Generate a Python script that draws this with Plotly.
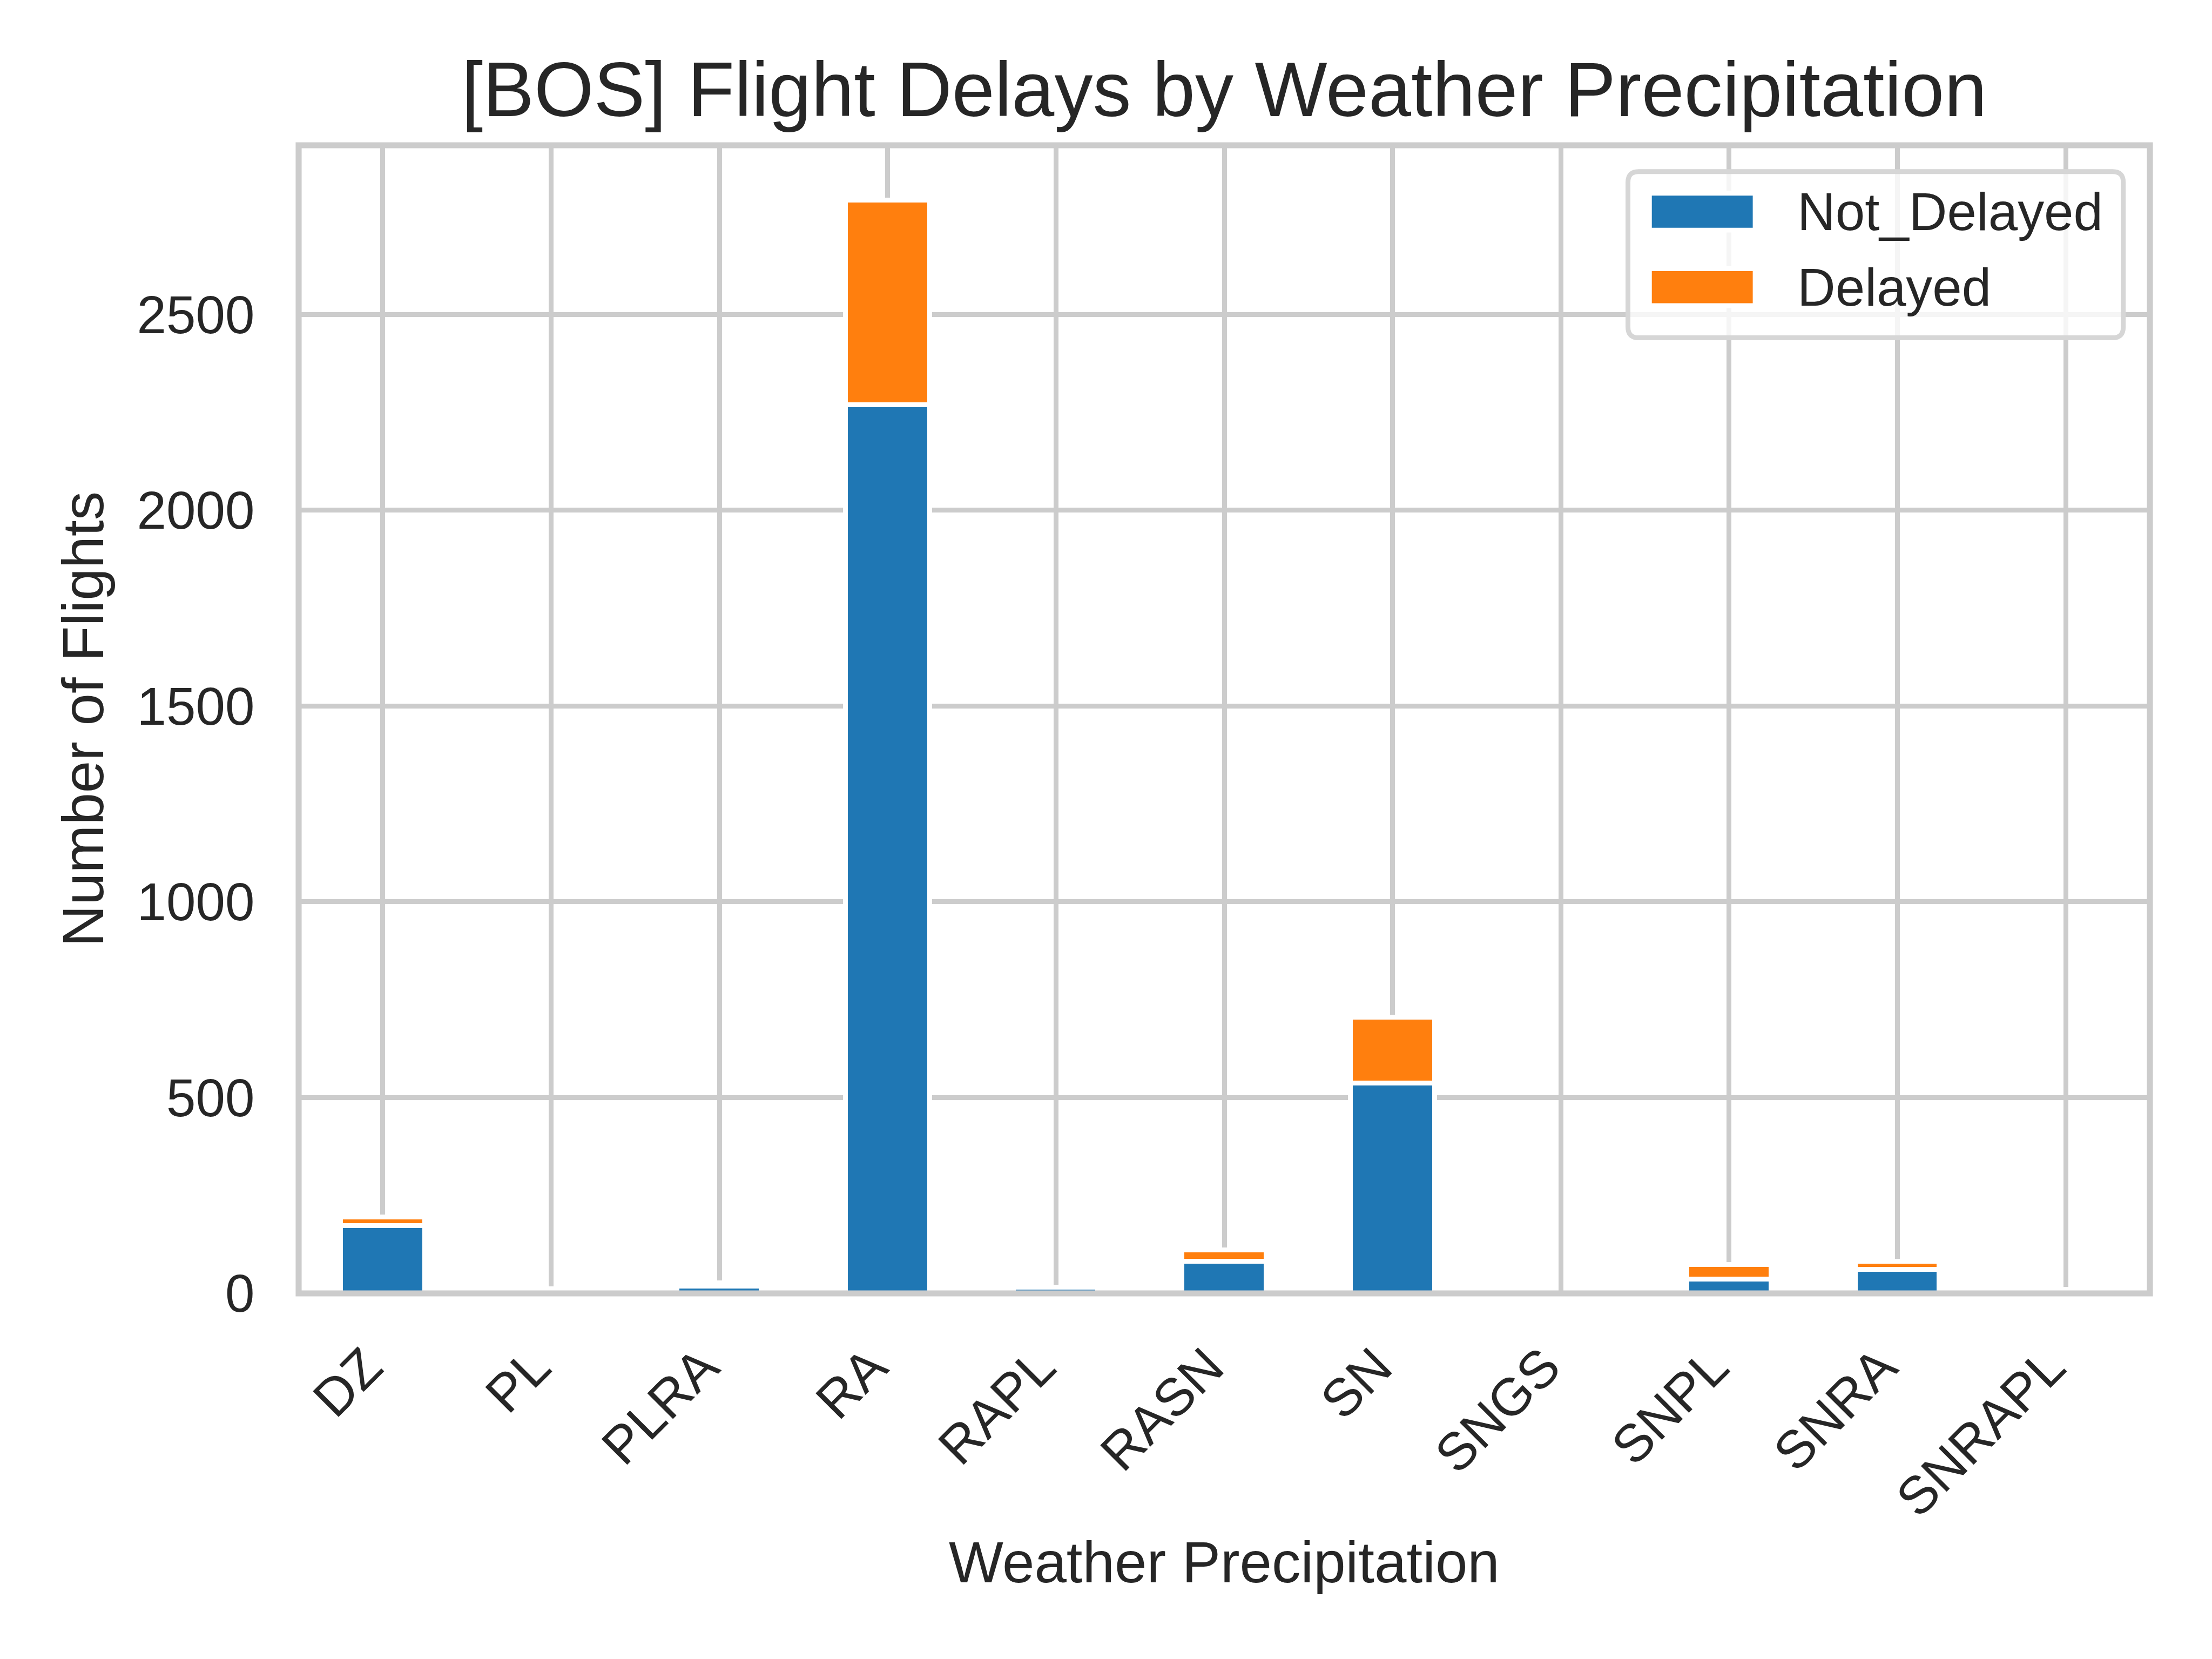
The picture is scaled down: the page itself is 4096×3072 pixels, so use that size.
import plotly.graph_objects as go

# ---- data ----
categories = ["DZ", "PL", "PLRA", "RA", "RAPL", "RASN", "SN", "SNGS", "SNPL", "SNRA", "SNRAPL"]
not_delayed = [172, 9, 18, 2268, 15, 82, 537, 0, 36, 61, 8]
delayed = [22, 2, 8, 524, 0, 28, 168, 0, 37, 21, 1]
series_names = ["Not_Delayed", "Delayed"]
series_colors = ["#1f77b4", "#ff7f0e"]
y_ticks = [0, 500, 1000, 1500, 2000, 2500]
y_max = 2932

# ---- geometry (reference 6400x4800 scaled by 0.64) ----
S = 0.64
W, H = 4096, 3072
AX_L, AX_R, AX_T, AX_B = 864 * S, 6220 * S, 421 * S, 3742.5 * S
TEXT = "#262626"
GRID = "#cccccc"
FONT = "Liberation Sans, Arial, Helvetica, sans-serif"


def px_x(x):
    return (x * S - AX_L) / (AX_R - AX_L)


def px_y(y):
    return (AX_B - y * S) / (AX_B - AX_T)


fig = go.Figure()
for name, vals, col in zip(series_names, [not_delayed, delayed], series_colors):
    fig.add_trace(go.Bar(
        x=categories, y=vals, name=name, width=0.5,
        marker=dict(color=col, line=dict(color="white", width=14 * S)),
        showlegend=False,
    ))

shapes = []
# axes frame (spines), drawn centred on the plot edges like matplotlib
shapes.append(dict(type="rect", xref="paper", yref="paper", x0=0, x1=1, y0=0, y1=1,
                   line=dict(color=GRID, width=17.4 * S), fillcolor="rgba(0,0,0,0)", layer="above"))

# legend frame with rounded corners
lx0, lx1, ly0, ly1 = px_x(4710), px_x(6143), px_y(978), px_y(497)
rx = px_x(4710 + 31) - px_x(4710)
ry = px_y(497) - px_y(497 + 31)
path = (f"M{lx0 + rx},{ly1} L{lx1 - rx},{ly1} Q{lx1},{ly1} {lx1},{ly1 - ry} "
        f"L{lx1},{ly0 + ry} Q{lx1},{ly0} {lx1 - rx},{ly0} L{lx0 + rx},{ly0} "
        f"Q{lx0},{ly0} {lx0},{ly0 + ry} L{lx0},{ly1 - ry} Q{lx0},{ly1} {lx0 + rx},{ly1} Z")
shapes.append(dict(type="path", xref="paper", yref="paper", path=path,
                   fillcolor="rgba(255,255,255,0.8)", line=dict(color="#d6d6d6", width=14 * S),
                   layer="above"))

annotations = []
row_centers = [613, 831.5]
for name, col, cy in zip(series_names, series_colors, row_centers):
    shapes.append(dict(type="rect", xref="paper", yref="paper",
                       x0=px_x(4772), x1=px_x(5078), y0=px_y(cy + 53.5), y1=px_y(cy - 53.5),
                       fillcolor=col, line=dict(color="white", width=14 * S), layer="above"))
    annotations.append(dict(text=name, xref="paper", yref="paper", x=px_x(5197), y=px_y(cy),
                            xanchor="left", yanchor="middle", showarrow=False,
                            font=dict(family=FONT, size=153 * S, color=TEXT)))

# axis labels
annotations.append(dict(text="Weather Precipitation", xref="paper", yref="paper",
                        x=0.5, y=px_y(4520), xanchor="center", yanchor="middle", showarrow=False,
                        font=dict(family=FONT, size=167 * S, color=TEXT)))
annotations.append(dict(text="Number of Flights", xref="paper", yref="paper",
                        x=px_x(241), y=0.5, xanchor="center", yanchor="middle", showarrow=False,
                        textangle=-90, font=dict(family=FONT, size=167 * S, color=TEXT)))

fig.update_layout(
    width=W, height=H,
    margin=dict(l=AX_L, r=W - AX_R, t=AX_T, b=H - AX_B, pad=0),
    paper_bgcolor="white", plot_bgcolor="white",
    barmode="stack", bargap=0,
    font=dict(family=FONT, color=TEXT, size=153 * S),
    title=dict(text="[BOS] Flight Delays by Weather Precipitation",
               x=0.5, xref="paper", xanchor="center",
               y=1 - 257.5 * S / H, yref="container", yanchor="middle",
               font=dict(family=FONT, size=222 * S, color=TEXT)),
    xaxis=dict(type="category", categoryorder="array", categoryarray=categories,
               range=[-0.5, len(categories) - 0.5],
               showgrid=True, gridcolor=GRID, gridwidth=14 * S,
               showline=False, zeroline=False,
               ticks="outside", ticklen=38, tickcolor="rgba(0,0,0,0)",
               ticklabelshift=-30,
               tickangle=-45, tickfont=dict(family=FONT, size=153 * S, color=TEXT)),
    yaxis=dict(range=[0, y_max], tickmode="array", tickvals=y_ticks,
               ticktext=[str(v) for v in y_ticks],
               showgrid=True, gridcolor=GRID, gridwidth=14 * S,
               showline=False, zeroline=False,
               ticks="outside", ticklen=61, tickcolor="rgba(0,0,0,0)",
               tickfont=dict(family=FONT, size=153 * S, color=TEXT)),
    shapes=shapes, annotations=annotations,
)

fig.write_html("out.html")
